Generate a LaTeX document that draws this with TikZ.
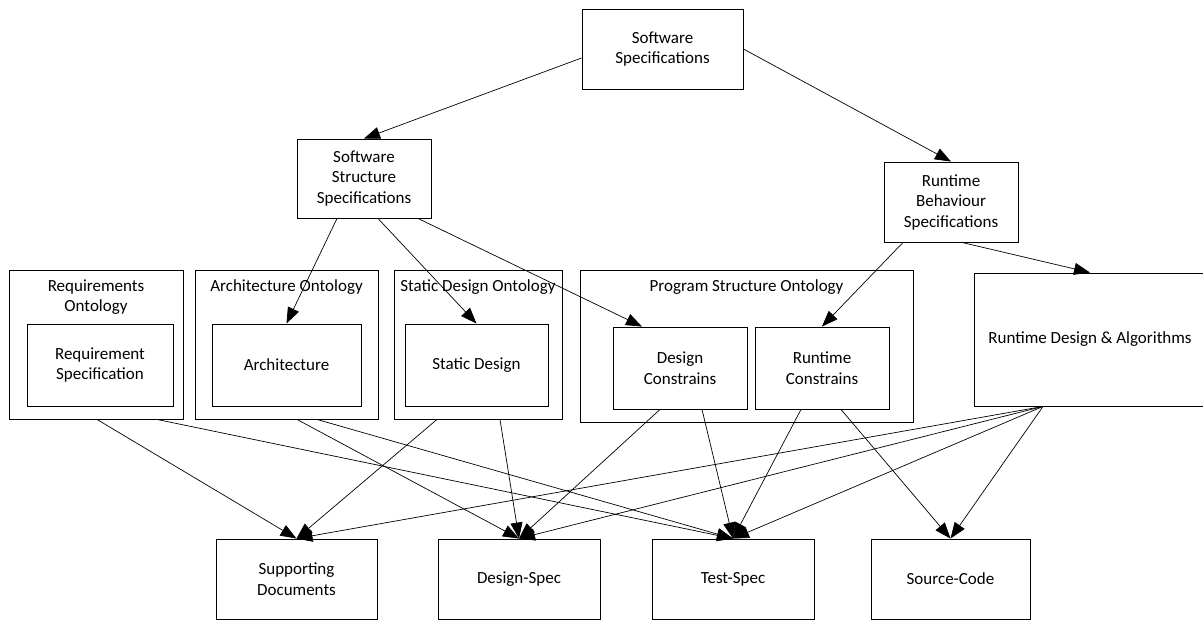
\documentclass[tikz,border=0pt]{standalone}
\usepackage{fontspec}
\setmainfont{Carlito}
\usetikzlibrary{arrows.meta}
\newcommand\boxfont{\fontsize{17}{20.5}\selectfont}
\tikzset{
  box/.style={draw=black, line width=0.9pt, inner sep=0pt, align=center, font=\boxfont},
  title/.style={inner sep=0pt, align=center, font=\boxfont},
  link/.style={draw=black, line width=0.7pt, -{Triangle[length=16pt,width=12pt]}},
}
\begin{document}
\begin{tikzpicture}[x=1pt,y=-1pt]
\useasboundingbox (0,0) rectangle (1203,619);

% top level specifications
\node[box, minimum width=161pt, minimum height=80pt] (swspec) at (662.5,49) {Software\\Specifications};
\node[box, minimum width=134pt, minimum height=79pt] (sstruct) at (364,178.5) {Software\\Structure\\Specifications};
\node[box, minimum width=134pt, minimum height=80pt] (rbeh) at (951,202) {Runtime\\Behaviour\\Specifications};

% ontology containers
\node[box, minimum width=174pt, minimum height=149pt] (reqont) at (96,344.5) {};
\node[title] (reqtitle) at (96,297) {Requirements\\Ontology};
\node[box, minimum width=146pt, minimum height=82pt] (reqspec) at (100,365) {Requirement\\Specification};

\node[box, minimum width=183pt, minimum height=149pt] (archont) at (286.5,344.5) {};
\node[title] (archtitle) at (286.5,287) {Architecture Ontology};
\node[box, minimum width=149pt, minimum height=82pt] (arch) at (286.5,365) {Architecture};

\node[box, minimum width=168pt, minimum height=149pt] (statont) at (478,344.5) {};
\node[title] (stattitle) at (478,287) {Static Design Ontology};
\node[box, minimum width=143pt, minimum height=82pt] (stat) at (476.5,365) {Static Design};

\node[box, minimum width=333pt, minimum height=152pt] (progont) at (746.5,346) {};
\node[title] (progtitle) at (746.5,287) {Program Structure Ontology};
\node[box, minimum width=134pt, minimum height=82pt] (dcons) at (680,368) {Design\\Constrains};
\node[box, minimum width=134pt, minimum height=82pt] (rcons) at (822,368) {Runtime\\Constrains};

\node[box, minimum width=232pt, minimum height=133pt] (rda) at (1090,339.5) {Runtime Design \& Algorithms};

% deliverables
\node[box, minimum width=161pt, minimum height=80pt] (supdoc) at (296.5,579) {Supporting\\Documents};
\node[box, minimum width=162pt, minimum height=80pt] (dspec) at (519,579) {Design-Spec};
\node[box, minimum width=162pt, minimum height=80pt] (tspec) at (733,579) {Test-Spec};
\node[box, minimum width=159pt, minimum height=80pt] (scode) at (950.5,579) {Source-Code};

% refinement of the specifications
\draw[link] ([yshift=-9pt]swspec.west) -- (sstruct.north);
\draw[link] (swspec.east) -- (rbeh.north);
\draw[link] ([xshift=-27pt]sstruct.south) -- (arch.north);
\draw[link] ([xshift=14pt]sstruct.south) -- (stat.north);
\draw[link] ([xshift=54pt]sstruct.south) -- ([xshift=-38pt]dcons.north);
\draw[link] ([xshift=-48pt]rbeh.south) -- (rcons.north);
\draw[link] ([xshift=11pt]rbeh.south) -- (rda.north);

% ontologies feeding the deliverables
\draw[link] ([xshift=1pt]reqont.south) -- (supdoc.north);
\draw[link] ([xshift=61pt]reqont.south) -- (tspec.north);
\draw[link] ([xshift=10.5pt]archont.south) -- (dspec.north);
\draw[link] ([xshift=30.5pt]archont.south) -- (tspec.north);
\draw[link] ([xshift=-41pt]statont.south) -- (supdoc.north);
\draw[link] ([xshift=22pt]statont.south) -- (dspec.north);
\draw[link] ([xshift=-20pt]dcons.south) -- (dspec.north);
\draw[link] ([xshift=22pt]dcons.south) -- (tspec.north);
\draw[link] ([xshift=-21pt]rcons.south) -- (tspec.north);
\draw[link] ([xshift=19pt]rcons.south) -- (scode.north);
\draw[link] ([xshift=-47pt]rda.south) -- (supdoc.north);
\draw[link] ([xshift=-47pt]rda.south) -- (dspec.north);
\draw[link] ([xshift=-47pt]rda.south) -- (tspec.north);
\draw[link] ([xshift=-47pt]rda.south) -- (scode.north);
\end{tikzpicture}
\end{document}
